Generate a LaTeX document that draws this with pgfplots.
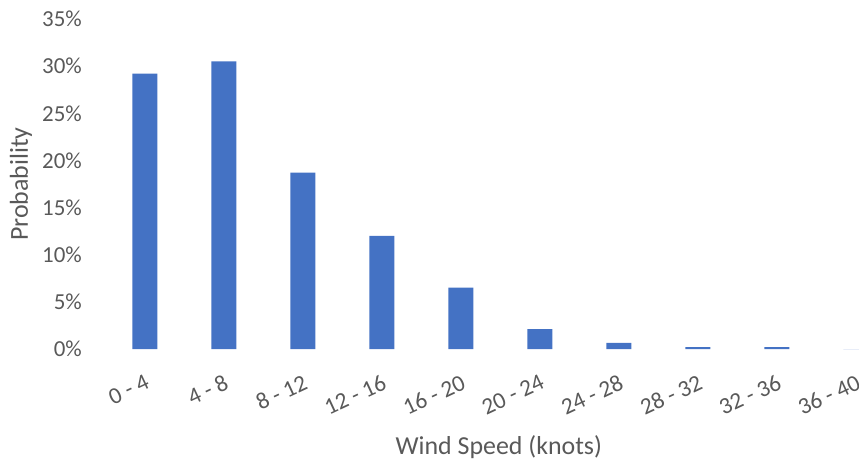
\documentclass[border=0pt]{standalone}
\usepackage{pgfplots}
\pgfplotsset{compat=1.18}
\usepackage{fontspec}
\setmainfont{Carlito}
\definecolor{barblue}{HTML}{4472C4}
\definecolor{txt}{HTML}{595959}
\begin{document}
\begin{tikzpicture}
\begin{axis}[
  name=ax,
  at={(0,0)}, anchor=south west,
  scale only axis,
  width=753.5bp, height=330bp,
  xmin=-0.5, xmax=9.04,
  ymin=0, ymax=35,
  axis line style={draw=none},
  major tick length=0pt,
  ytick={0,5,...,35},
  yticklabels={0\%,5\%,10\%,15\%,20\%,25\%,30\%,35\%},
  yticklabel style={font=\fontsize{23}{27}\selectfont, text=txt, anchor=east, inner sep=0pt, xshift=-23.5bp},
  xtick={0,...,9},
  xticklabels={0 - 4,4 - 8,8 - 12,12 - 16,16 - 20,20 - 24,24 - 28,28 - 32,32 - 36,36 - 40},
  xticklabel style={font=\fontsize{23.5}{28}\selectfont, text=txt, rotate=25, anchor=north east, inner sep=0pt, yshift=-22bp, xshift=-11bp},
  xlabel={Wind Speed (knots)},
  xlabel style={font=\fontsize{26}{31}\selectfont, text=txt, at={(axis description cs:0.522,0)}, anchor=center, yshift=-98bp},
  ylabel={Probability},
  ylabel style={font=\fontsize{26}{31}\selectfont, text=txt, at={(axis description cs:-0.1121,0.5)}, anchor=center},
  clip=false,
]
\addplot[ybar, bar width=25bp, fill=barblue, draw=none] coordinates {
  (0,29.2) (1,30.5) (2,18.7) (3,12.0) (4,6.5) (5,2.1) (6,0.64) (7,0.2) (8,0.2) (9,0)
};
\end{axis}
\pgfresetboundingbox
\useasboundingbox (-105.5bp,-114bp) rectangle (753.5bp,349bp);
\end{tikzpicture}
\end{document}
